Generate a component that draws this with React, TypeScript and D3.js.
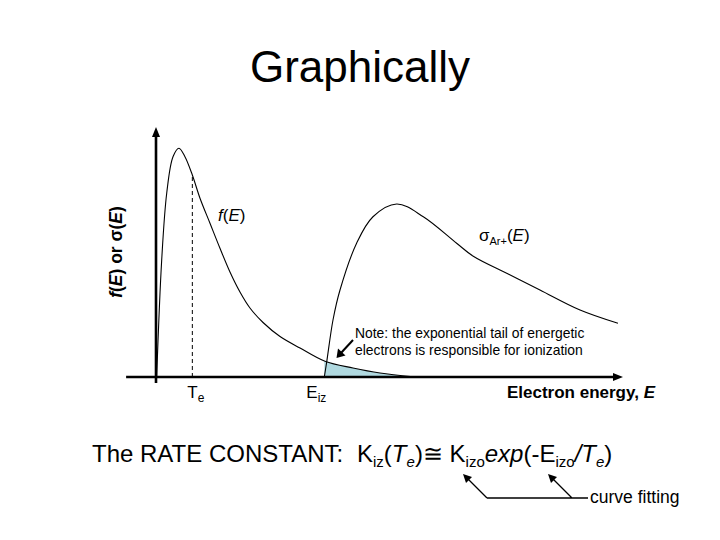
import React from "react";
import * as d3 from "d3";

// f(E): electron energy distribution (arbitrary units)
const energyF = [0.07, 0.61, 1.15, 1.82, 2.46, 3.1, 3.89, 4.71, 5.78, 6.85, 7.92, 8.99, 10.06, 11.46, 13.28, 15.42, 18.09, 21.09, 23.98, 27.52];
const valueF = [0, 46.8, 73.6, 88.1, 91.5, 88.1, 80.8, 71.5, 61.5, 51.5, 42.0, 34.0, 27.6, 21.8, 16.2, 11.6, 6.3, 3.6, 1.6, 0.1];

// sigma_Ar+(E): ionization cross section (arbitrary units)
const energyS = [18.02, 18.28, 18.95, 19.7, 21.49, 23.23, 25.77, 28.62, 32.19, 33.97, 37.55, 41.11, 45.4, 49.46];
const valueS = [0, 6.1, 22.8, 34.8, 53.6, 64.1, 69.2, 64.1, 53.5, 48.3, 41.5, 34.8, 26.8, 21.5];

const Te = 3.89;
const Eiz = 18.02;
const xDomain = [-3.2, 50.0];
const yDomain = [-2.4, 100];

const W = 720;
const H = 540;
const FONT = "'Liberation Sans', Arial, sans-serif";

export default function App() {
  const x = d3.scaleLinear().domain([0, 50]).range([156, 623]);
  const y = d3.scaleLinear().domain([0, 100]).range([377, 127]);

  const fPts: [number, number][] = energyF.map((e, i) => [e, valueF[i]]);
  const sPts: [number, number][] = energyS.map((e, i) => [e, valueS[i]]);

  const line = d3
    .line<[number, number]>()
    .x((d) => x(d[0]))
    .y((d) => y(d[1]))
    .curve(d3.curveCatmullRom.alpha(0.5));
  const area = d3
    .area<[number, number]>()
    .x((d) => x(d[0]))
    .y0(y(0))
    .y1((d) => y(d[1]))
    .curve(d3.curveCatmullRom.alpha(0.5));

  const x0 = x(xDomain[0]);
  const x1 = x(xDomain[1]);
  const yb = y(yDomain[0]);
  const yt = y(yDomain[1]);
  const ax = x(0);
  const ay = y(0);

  return (
    <svg
      width={W}
      height={H}
      style={{ position: "absolute", left: 0, top: 0, background: "#fff" }}
      fontFamily={FONT}
    >
      <rect width={W} height={H} fill="#fff" />
      <defs>
        <clipPath id="tailClip">
          <rect x={x(Eiz)} y={0} width={W} height={ay} />
        </clipPath>
      </defs>

      <text x={360} y={82} fontSize={44} textAnchor="middle" fill="#000">
        Graphically
      </text>

      {/* shaded tail */}
      <path d={area(fPts) || ""} fill="#b0d9e0" clipPath="url(#tailClip)" />

      {/* Te dashed line */}
      <line
        x1={x(Te)}
        x2={x(Te)}
        y1={ay}
        y2={y(80.8)}
        stroke="#000"
        strokeWidth={1}
        strokeDasharray="4,3"
      />

      {/* curves */}
      <path d={line(fPts) || ""} fill="none" stroke="#000" strokeWidth={1.1} />
      <path d={line(sPts) || ""} fill="none" stroke="#000" strokeWidth={1.1} />

      {/* axes */}
      <line x1={x0} x2={x1 - 8} y1={ay} y2={ay} stroke="#000" strokeWidth={2.6} />
      <path d={`M${x1},${ay} L${x1 - 10},${ay - 4} L${x1 - 10},${ay + 4} Z`} fill="#000" />
      <line x1={ax} x2={ax} y1={yb} y2={yt + 8} stroke="#000" strokeWidth={2.6} />
      <path d={`M${ax},${yt} L${ax - 4},${yt + 10} L${ax + 4},${yt + 10} Z`} fill="#000" />

      {/* y label */}
      <text
        transform="translate(122,252) rotate(-90)"
        textAnchor="middle"
        fontSize={17.5}
        fontWeight="bold"
        fill="#000"
      >
        <tspan fontStyle="italic">f</tspan>(<tspan fontStyle="italic">E</tspan>) or σ(
        <tspan fontStyle="italic">E</tspan>)
      </text>

      {/* curve labels */}
      <text x={218} y={221} fontSize={17} fill="#000">
        <tspan fontStyle="italic">f</tspan>(<tspan fontStyle="italic">E</tspan>)
      </text>
      <text x={479} y={241} fontSize={17} fill="#000">
        σ<tspan fontSize={11} dy={4}>Ar+</tspan>
        <tspan dy={-4}>(</tspan>
        <tspan fontStyle="italic">E</tspan>)
      </text>

      {/* note */}
      <text x={355} y={338} fontSize={13.9} fill="#000">
        Note: the exponential tail of energetic
      </text>
      <text x={355} y={355} fontSize={13.9} fill="#000">
        electrons is responsible for ionization
      </text>
      <line x1={353} y1={340} x2={341} y2={353} stroke="#000" strokeWidth={2} />
      <path d="M336.5,358 L338,348.5 L345.5,355.5 Z" fill="#000" />

      {/* axis labels */}
      <text x={x(Te) - 5} y={398} fontSize={17} fill="#000">
        T<tspan fontSize={12} dy={4}>e</tspan>
      </text>
      <text x={x(Eiz) - 18} y={398} fontSize={17} fill="#000">
        E<tspan fontSize={12} dy={4}>iz</tspan>
      </text>
      <text x={655} y={398} fontSize={17} fontWeight="bold" textAnchor="end" fill="#000">
        Electron energy, <tspan fontStyle="italic">E</tspan>
      </text>

      {/* rate constant */}
      <text x={92} y={462} fontSize={24} fill="#000">
        The RATE CONSTANT:
      </text>
      <text x={357} y={462} fontSize={24} fill="#000">
        K<tspan fontSize={15} dy={5}>iz</tspan>
        <tspan dy={-5}>(</tspan>
        <tspan fontStyle="italic">T</tspan>
        <tspan fontStyle="italic" fontSize={15} dy={5}>e</tspan>
        <tspan dy={-5}>)≅ K</tspan>
        <tspan fontSize={15} dy={5}>izo</tspan>
        <tspan dy={-5} fontStyle="italic">exp</tspan>
        <tspan>(-E</tspan>
        <tspan fontSize={15} dy={5}>izo</tspan>
        <tspan dy={-5} fontStyle="italic">/T</tspan>
        <tspan fontStyle="italic" fontSize={15} dy={5}>e</tspan>
        <tspan dy={-5}>)</tspan>
      </text>

      {/* curve fitting arrows */}
      <path d="M487,498 L468,479 M572,498 L553,479 M487,498 L588,498" stroke="#000" strokeWidth={1.3} fill="none" />
      <path d="M463,474 L472,477 L466,483 Z" fill="#000" />
      <path d="M548,474 L557,477 L551,483 Z" fill="#000" />
      <text x={590} y={503} fontSize={17.5} fill="#000">
        curve fitting
      </text>
    </svg>
  );
}
